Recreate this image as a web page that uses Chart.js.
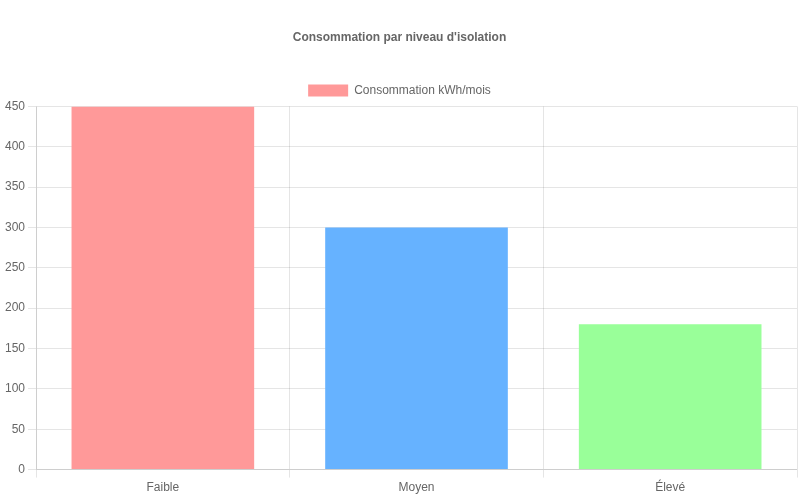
<!DOCTYPE html>
<html>
<head>
<meta charset="utf-8">
<script src="https://cdn.jsdelivr.net/npm/chart.js@4"></script>
<style>
html,body{margin:0;padding:0;background:#fff;}
#wrap{width:800px;height:500px;}
</style>
</head>
<body>
<div id="wrap"><canvas id="c"></canvas></div>
<script>
const categories = ["Faible", "Moyen", "Élevé"];
const consumption = [450, 300, 180];
const barColors = ["#FF9999", "#66B2FF", "#99FF99"];
const seriesLabel = "Consommation kWh/mois";
const chartTitle = "Consommation par niveau d'isolation";

Chart.defaults.font.family = "'Liberation Sans', Arial, sans-serif";
Chart.defaults.color = "#666";

new Chart(document.getElementById("c"), {
  type: "bar",
  data: {
    labels: categories,
    datasets: [{
      label: seriesLabel,
      data: consumption,
      backgroundColor: barColors,
      borderWidth: 0
    }]
  },
  options: {
    responsive: true,
    maintainAspectRatio: false,
    animation: false,
    layout: { padding: { left: 2, right: 3, bottom: 2, top: 0 } },
    plugins: {
      title: {
        display: true,
        text: chartTitle,
        font: { size: 12, weight: "bold" },
        padding: { top: 30, bottom: 30 }
      },
      legend: { display: true }
    },
    scales: {
      y: {
        beginAtZero: true,
        max: 450,
        ticks: { stepSize: 50 }
      }
    }
  }
});
</script>
</body>
</html>
